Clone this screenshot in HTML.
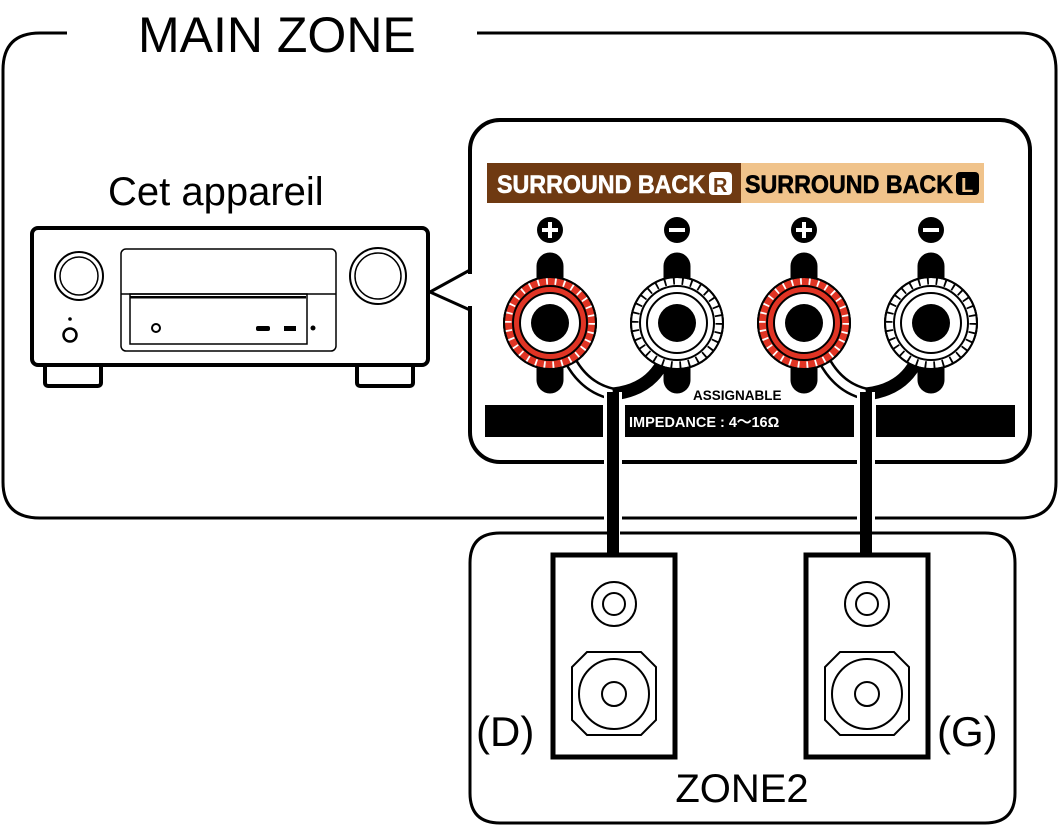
<!DOCTYPE html>
<html><head><meta charset="utf-8"><style>
html,body{margin:0;padding:0;background:#fff;}
svg{display:block;}
text{font-family:"Liberation Sans",sans-serif;}
</style></head><body>
<svg width="1059" height="829" viewBox="0 0 1059 829" xmlns="http://www.w3.org/2000/svg">
<defs>
<g id="rterm">
  <circle r="46" fill="#e03424" stroke="#000" stroke-width="2"/>
  <circle r="42" fill="none" stroke="#fff" stroke-width="7" stroke-dasharray="1.8 7"/>
  <circle r="46" fill="none" stroke="#000" stroke-width="2"/>
  <circle r="37" fill="none" stroke="#000" stroke-width="2"/>
  <circle r="30" fill="#fff" stroke="#000" stroke-width="2"/>
  <circle r="19" fill="#000"/>
</g>
<g id="wterm">
  <circle r="46" fill="#fff" stroke="#000" stroke-width="2"/>
  <circle r="42" fill="none" stroke="#000" stroke-width="7" stroke-dasharray="1.8 7"/>
  <circle r="46" fill="none" stroke="#000" stroke-width="2"/>
  <circle r="37" fill="none" stroke="#000" stroke-width="2"/>
  <circle r="30" fill="#fff" stroke="#000" stroke-width="2"/>
  <circle r="19" fill="#000"/>
</g>
<g id="spk">
  <rect x="-61" y="0" width="122" height="202" fill="#fff" stroke="#000" stroke-width="5"/>
  <circle cx="0" cy="49" r="22" fill="none" stroke="#000" stroke-width="2"/>
  <circle cx="0" cy="49" r="11" fill="none" stroke="#000" stroke-width="2"/>
  <polygon points="-27,97 27,97 42,112 42,165 27,180 -27,180 -42,165 -42,112" fill="none" stroke="#000" stroke-width="2"/>
  <circle cx="0" cy="139" r="35" fill="none" stroke="#000" stroke-width="2"/>
  <circle cx="0" cy="139" r="12" fill="none" stroke="#000" stroke-width="2"/>
</g>
</defs>

<path d="M67,33 L40,33 Q3,33 3,70 L3,482 Q3,518 40,518 L1020,518 Q1056,518 1056,482 L1056,70 Q1056,33 1020,33 L477,33" fill="none" stroke="#000" stroke-width="3"/>
<text x="138" y="52" font-size="50">MAIN ZONE</text>

<text x="108" y="205" font-size="40">Cet appareil</text>
<rect x="45" y="362" width="56" height="24" rx="3" fill="#fff" stroke="#000" stroke-width="4"/>
<rect x="357" y="362" width="56" height="24" rx="3" fill="#fff" stroke="#000" stroke-width="4"/>
<rect x="32" y="228" width="396" height="137" rx="6" fill="#fff" stroke="#000" stroke-width="4"/>
<circle cx="79" cy="276" r="24" fill="none" stroke="#000" stroke-width="2"/>
<circle cx="79" cy="276" r="19" fill="none" stroke="#000" stroke-width="1.5"/>
<circle cx="378" cy="276" r="28" fill="none" stroke="#000" stroke-width="2"/>
<circle cx="378" cy="276" r="23" fill="none" stroke="#000" stroke-width="1.5"/>
<circle cx="70" cy="319" r="1.8" fill="#000"/>
<circle cx="70" cy="335" r="6.5" fill="none" stroke="#000" stroke-width="2.5"/>
<rect x="121" y="249" width="215" height="102" rx="5" fill="none" stroke="#000" stroke-width="1.5"/>
<line x1="121" y1="294" x2="336" y2="294" stroke="#000" stroke-width="1.5"/>
<rect x="130" y="296" width="176" height="2.5" fill="#000"/>
<rect x="130" y="294" width="177" height="50" fill="none" stroke="#000" stroke-width="1.5"/>
<circle cx="156" cy="328" r="4" fill="none" stroke="#000" stroke-width="2"/>
<rect x="256" y="326" width="14" height="5" rx="2" fill="#000"/>
<rect x="284" y="326" width="12" height="5" fill="#000"/>
<circle cx="313" cy="328" r="2.5" fill="#000"/>
<polyline points="470,270 430,292 470,310" fill="#fff" stroke="#000" stroke-width="3"/>

<rect x="470" y="120" width="560" height="342" rx="30" fill="#fff" stroke="#000" stroke-width="4"/>
<line x1="470" y1="274" x2="470" y2="306" stroke="#fff" stroke-width="6"/>
<rect x="487" y="163" width="254" height="40" fill="#6f3a12"/>
<rect x="741" y="163" width="243" height="40" fill="#f0c38b"/>
<text x="497" y="193" font-size="25" font-weight="bold" fill="#fff" stroke="#fff" stroke-width="0.6" textLength="208" lengthAdjust="spacingAndGlyphs">SURROUND BACK</text>
<rect x="709" y="172" width="23" height="23" rx="4" fill="#fff"/>
<text x="713" y="192" font-size="20" font-weight="bold" fill="#6f3a12">R</text>
<text x="745" y="193" font-size="25" font-weight="bold" fill="#000" stroke="#000" stroke-width="0.6" textLength="208" lengthAdjust="spacingAndGlyphs">SURROUND BACK</text>
<rect x="956" y="172" width="23" height="23" rx="4" fill="#000"/>
<text x="961" y="192" font-size="20" font-weight="bold" fill="#f0c38b">L</text>

<g fill="#000">
<circle cx="550" cy="230" r="13"/><circle cx="677" cy="230" r="13"/><circle cx="804" cy="230" r="13"/><circle cx="931" cy="230" r="13"/>
</g>
<g stroke="#fff" stroke-width="4">
<line x1="542" y1="230" x2="558" y2="230"/><line x1="550" y1="222" x2="550" y2="238"/>
<line x1="669" y1="230" x2="685" y2="230"/>
<line x1="796" y1="230" x2="812" y2="230"/><line x1="804" y1="222" x2="804" y2="238"/>
<line x1="923" y1="230" x2="939" y2="230"/>
</g>
<g stroke="#000" stroke-width="27" stroke-linecap="round">
<line x1="550" y1="266" x2="550" y2="380"/><line x1="677" y1="266" x2="677" y2="380"/>
<line x1="804" y1="266" x2="804" y2="380"/><line x1="931" y1="266" x2="931" y2="380"/>
</g>
<rect x="485" y="405" width="118" height="32" fill="#000"/>
<rect x="625" y="405" width="229" height="32" fill="#000"/>
<rect x="876" y="405" width="139" height="32" fill="#000"/>
<text x="693" y="400" font-size="13.5" font-weight="bold">ASSIGNABLE</text>
<text x="629" y="427" font-size="14.5" font-weight="bold" fill="#fff">IMPEDANCE : 4～16Ω</text>

<g fill="none" stroke-linecap="butt">
<path d="M570,360 Q585,388 613,394" stroke="#000" stroke-width="13"/>
<path d="M570,360 Q585,388 613,394" stroke="#fff" stroke-width="8"/>
<path d="M664,360 Q650,390 613,394" stroke="#000" stroke-width="13"/>
<path d="M824,360 Q839,388 866,394" stroke="#000" stroke-width="13"/>
<path d="M824,360 Q839,388 866,394" stroke="#fff" stroke-width="8"/>
<path d="M917,360 Q903,390 866,394" stroke="#000" stroke-width="13"/>
<line x1="613" y1="392" x2="613" y2="556" stroke="#fff" stroke-width="18"/>
<line x1="613" y1="392" x2="613" y2="556" stroke="#000" stroke-width="12"/>
<line x1="866" y1="392" x2="866" y2="556" stroke="#fff" stroke-width="18"/>
<line x1="866" y1="392" x2="866" y2="556" stroke="#000" stroke-width="12"/>
</g>
<use href="#rterm" x="550" y="323"/>
<use href="#wterm" x="677" y="323"/>
<use href="#rterm" x="804" y="323"/>
<use href="#wterm" x="931" y="323"/>

<path d="M607,533 L500,533 Q470,533 470,563 L470,793 Q470,823 500,823 L985,823 Q1015,823 1015,793 L1015,563 Q1015,533 985,533 L872,533 M860,533 L620,533" fill="none" stroke="#000" stroke-width="3"/>
<use href="#spk" x="614" y="555"/>
<use href="#spk" x="867" y="555"/>
<text x="476" y="746" font-size="42">(D)</text>
<text x="937" y="746" font-size="42">(G)</text>
<text x="742" y="802" font-size="40" text-anchor="middle">ZONE2</text>
</svg>
</body></html>
